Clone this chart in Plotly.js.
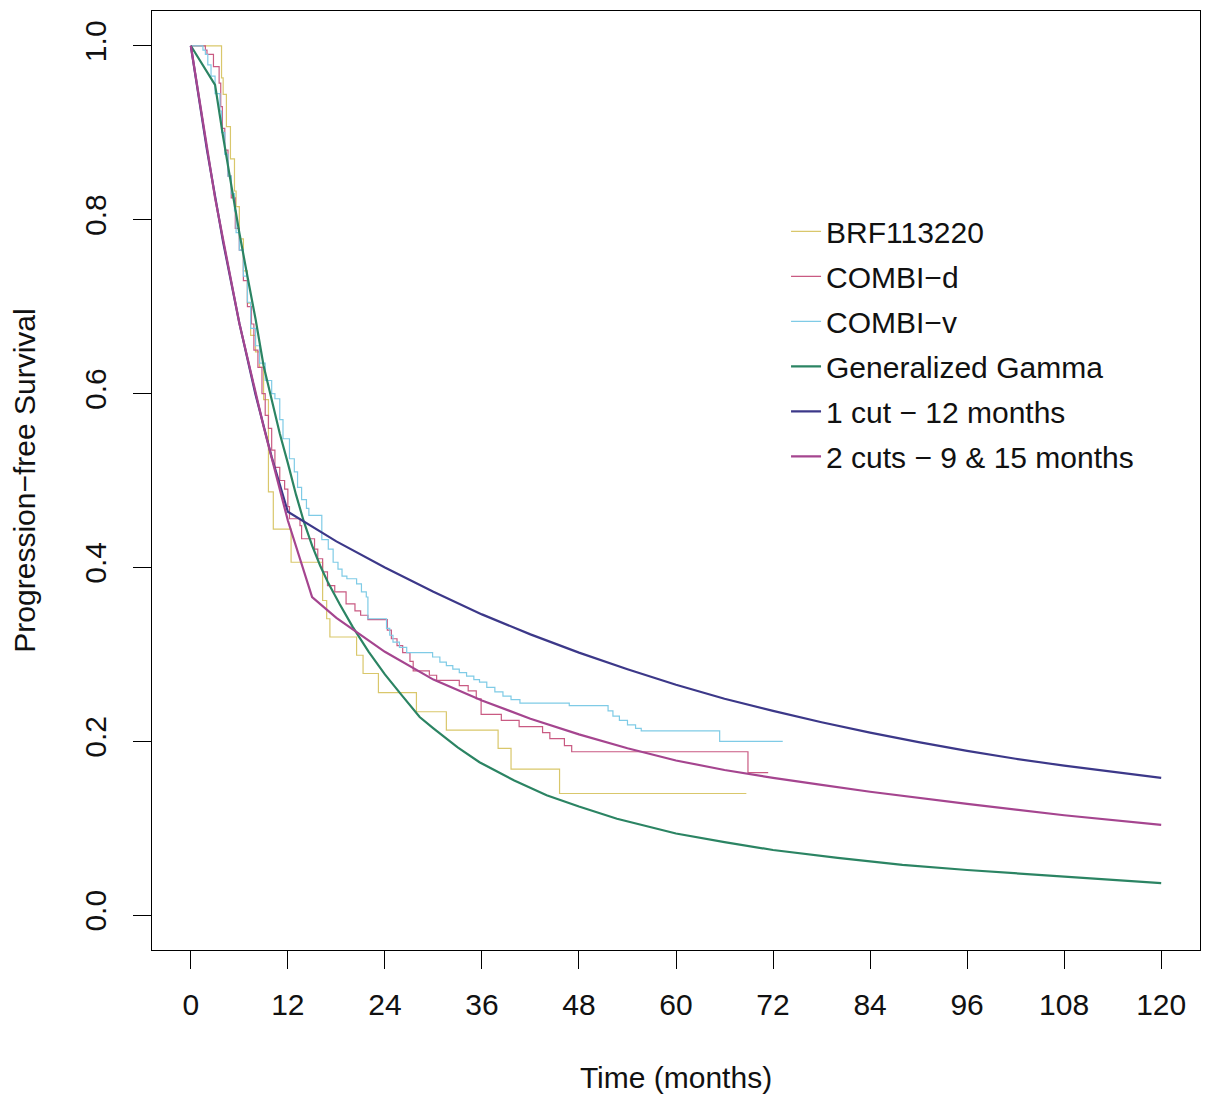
<!DOCTYPE html>
<html>
<head>
<meta charset="utf-8">
<script src="https://cdn.plot.ly/plotly-3.0.1.min.js"></script>
<style>html,body{margin:0;padding:0;background:#fff;}#chart{width:1208px;height:1097px;}</style>
</head>
<body>
<div id="chart"></div>
<script>
// ---- Data ----
const xTicks = [0, 12, 24, 36, 48, 60, 72, 84, 96, 108, 120];
const yTicks = [0.0, 0.2, 0.4, 0.6, 0.8, 1.0];

// Kaplan-Meier: BRF113220
const brfTime = [0, 3.8, 4.0, 4.4, 4.9, 5.4, 5.6, 6.0, 6.5, 7.0, 7.4, 8.0, 8.5, 9.0, 9.6, 10.2, 12.4, 16.3, 16.8, 17.2, 20.5, 21.3, 23.2, 27.9, 31.6, 38.0, 39.6, 45.6, 68.7];
const brfSurv = [1.0, 0.963, 0.944, 0.907, 0.870, 0.833, 0.815, 0.778, 0.741, 0.704, 0.667, 0.648, 0.630, 0.593, 0.487, 0.444, 0.406, 0.362, 0.341, 0.320, 0.299, 0.278, 0.256, 0.234, 0.213, 0.192, 0.168, 0.140, 0.140];

// Kaplan-Meier: COMBI-d
const combiDTime = [0, 1.8, 2.0, 2.8, 3.5, 3.7, 3.9, 4.2, 4.6, 5.0, 5.5, 6.0, 6.5, 7.0, 7.5, 7.8, 8.3, 8.8, 9.2, 9.6, 10.0, 10.4, 11.0, 11.6, 12.0, 12.2, 13.5, 13.7, 15.3, 15.7, 16.3, 16.9, 17.8, 19.2, 20.3, 21.0, 21.9, 24.3, 24.8, 25.5, 26.2, 27.1, 27.5, 29.5, 30.4, 33.2, 34.3, 35.3, 35.9, 38.4, 40.6, 43.5, 44.4, 46.2, 47.1, 68.9, 71.4];
const combiDSurv = [1.0, 0.995, 0.990, 0.976, 0.957, 0.930, 0.905, 0.880, 0.850, 0.825, 0.790, 0.765, 0.730, 0.700, 0.680, 0.650, 0.630, 0.600, 0.575, 0.560, 0.535, 0.515, 0.500, 0.490, 0.470, 0.456, 0.448, 0.433, 0.421, 0.410, 0.395, 0.379, 0.372, 0.358, 0.350, 0.345, 0.340, 0.328, 0.318, 0.310, 0.302, 0.292, 0.281, 0.276, 0.270, 0.264, 0.258, 0.249, 0.231, 0.224, 0.217, 0.210, 0.203, 0.195, 0.188, 0.164, 0.164];

// Kaplan-Meier: COMBI-v
const combiVTime = [0, 1.5, 1.8, 2.1, 2.5, 3.0, 3.6, 3.8, 4.2, 4.6, 5.0, 5.4, 5.6, 6.0, 6.5, 7.0, 7.4, 8.0, 8.5, 9.2, 10.0, 10.4, 11.0, 11.4, 12.2, 12.8, 13.2, 13.7, 14.3, 14.6, 16.2, 17.0, 17.6, 18.2, 18.7, 19.3, 20.5, 21.1, 21.7, 21.9, 24.2, 24.6, 25.0, 25.8, 26.7, 29.9, 30.8, 31.6, 32.4, 33.2, 34.1, 35.0, 35.7, 36.6, 37.6, 38.6, 39.6, 40.7, 46.8, 51.6, 52.2, 53.0, 54.0, 55.0, 55.7, 65.4, 73.2];
const combiVSurv = [1.0, 0.995, 0.990, 0.978, 0.965, 0.945, 0.925, 0.900, 0.875, 0.850, 0.830, 0.810, 0.785, 0.765, 0.735, 0.705, 0.675, 0.655, 0.635, 0.615, 0.600, 0.594, 0.570, 0.548, 0.525, 0.510, 0.492, 0.478, 0.468, 0.460, 0.432, 0.421, 0.406, 0.398, 0.390, 0.387, 0.381, 0.372, 0.366, 0.341, 0.330, 0.322, 0.314, 0.308, 0.302, 0.297, 0.291, 0.287, 0.283, 0.279, 0.275, 0.271, 0.268, 0.262, 0.257, 0.252, 0.248, 0.244, 0.241, 0.235, 0.229, 0.224, 0.219, 0.215, 0.212, 0.200, 0.200];

// Generalized Gamma fit
const ggTime = [0, 3, 4, 5, 6, 7, 8, 9, 10, 11, 12, 13, 14, 15, 16, 17, 18.4, 20, 22, 24, 26, 28.3, 30, 33, 35.7, 40, 44, 48, 52.7, 60, 66, 72, 80, 88, 96, 104, 112, 120];
const ggSurv = [1.0, 0.955, 0.895, 0.838, 0.785, 0.735, 0.686, 0.632, 0.592, 0.554, 0.520, 0.484, 0.452, 0.425, 0.402, 0.382, 0.358, 0.332, 0.303, 0.277, 0.254, 0.228, 0.215, 0.193, 0.176, 0.155, 0.138, 0.125, 0.111, 0.094, 0.084, 0.075, 0.066, 0.058, 0.052, 0.047, 0.042, 0.037];

// Piecewise model: 1 cut at 12 months
const cut1Time = [0, 2, 4, 6, 8, 10, 12, 15, 18, 24, 30, 36, 42, 48, 54, 60, 66, 72, 78, 84, 90, 96, 102, 108, 114, 120];
const cut1Surv = [1.0, 0.880, 0.774, 0.681, 0.599, 0.527, 0.464, 0.447, 0.430, 0.400, 0.372, 0.346, 0.323, 0.302, 0.283, 0.265, 0.249, 0.235, 0.222, 0.210, 0.199, 0.189, 0.180, 0.172, 0.165, 0.158];

// Piecewise model: 2 cuts at 9 and 15 months
const cut2Time = [0, 3, 6, 9, 12, 15, 18, 21, 24, 30, 36, 42, 48, 54, 60, 66, 72, 78, 84, 96, 108, 120];
const cut2Surv = [1.0, 0.825, 0.681, 0.562, 0.454, 0.366, 0.342, 0.322, 0.303, 0.271, 0.247, 0.226, 0.208, 0.192, 0.178, 0.167, 0.158, 0.150, 0.142, 0.128, 0.115, 0.104];

const seriesNames = ["BRF113220", "COMBI\u2212d", "COMBI\u2212v", "Generalized Gamma", "1 cut \u2212 12 months", "2 cuts \u2212 9 & 15 months"];
const seriesColors = ["#D9C76B", "#C95A82", "#7FCBE6", "#2B8463", "#3C3889", "#A5458F"];

// ---- Traces ----
function km(x, y, i) {
  return {x: x, y: y, type: "scatter", mode: "lines", name: seriesNames[i], legendgroup: "g" + i,
          line: {color: seriesColors[i], width: 1.2, shape: "hv"}, hoverinfo: "skip"};
}
function model(x, y, i) {
  return {x: x, y: y, type: "scatter", mode: "lines", name: seriesNames[i], legendgroup: "g" + i,
          line: {color: seriesColors[i], width: 2.2, shape: "linear"}, hoverinfo: "skip"};
}
const data = [
  km(brfTime, brfSurv, 0),
  km(combiDTime, combiDSurv, 1),
  km(combiVTime, combiVSurv, 2),
  model(ggTime, ggSurv, 3),
  model(cut1Time, cut1Surv, 4),
  model(cut2Time, cut2Surv, 5)
];

const FONT = "Liberation Sans, Arial, Helvetica, sans-serif";
const layout = {
  width: 1208, height: 1097,
  margin: {l: 152, r: 8, t: 11, b: 147, pad: 0},
  paper_bgcolor: "#ffffff", plot_bgcolor: "#ffffff",
  font: {family: FONT, size: 30, color: "#000000"},
  showlegend: true,
  legend: {x: 0.605, y: 0.793, xanchor: "left", yanchor: "top", bgcolor: "rgba(0,0,0,0)",
           font: {family: FONT, size: 30, color: "#111111"}, tracegroupgap: 3, itemwidth: 30},
  xaxis: {
    range: [-4.8, 124.8], tickmode: "array", tickvals: xTicks, ticktext: xTicks.map(String),
    showgrid: false, zeroline: false, showline: true, mirror: true, linecolor: "#000", linewidth: 1,
    ticks: "outside", ticklen: 18, tickwidth: 1, tickcolor: "#000", ticklabelstandoff: 10,
    tickfont: {family: FONT, size: 30, color: "#111"},
    title: {text: "Time (months)", font: {family: FONT, size: 30, color: "#111"}, standoff: 46},
    automargin: false
  },
  yaxis: {
    range: [-0.04, 1.04], tickmode: "array", tickvals: yTicks, ticktext: yTicks.map(v => v.toFixed(1)),
    showgrid: false, zeroline: false, showline: true, mirror: true, linecolor: "#000", linewidth: 1,
    ticks: "outside", ticklen: 18, tickwidth: 1, tickcolor: "#000", tickangle: -90, ticklabelstandoff: 15,
    tickfont: {family: FONT, size: 30, color: "#111"},
    title: {text: "Progression\u2212free Survival", font: {family: FONT, size: 30, color: "#111"}, standoff: 34},
    automargin: false
  }
};
Plotly.newPlot("chart", data, layout, {staticPlot: true, displayModeBar: false});
</script>
</body>
</html>
